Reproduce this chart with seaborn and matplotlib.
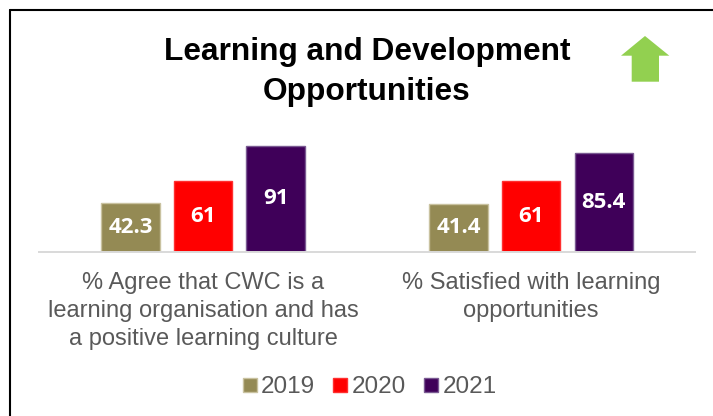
import matplotlib
matplotlib.use("Agg")
import matplotlib.pyplot as plt
from matplotlib.patches import Polygon
from matplotlib.lines import Line2D
import seaborn as sns
import pandas as pd

# Survey measures (x categories) and yearly results
categories = [
    "% Agree that CWC is a\nlearning organisation and has\na positive learning culture",
    "% Satisfied with learning\nopportunities",
]
years = ["2019", "2020", "2021"]
values_2019 = [42.3, 41.4]
values_2020 = [61, 61]
values_2021 = [91, 85.4]

title = "Learning and Development\nOpportunities"

colors = {"2019": "#948A54", "2020": "#FF0000", "2021": "#3F0059"}
edge_colors = {"2019": "#C9C2A0", "2020": "#FF3030", "2021": "#7A5A92"}

rows = []
for year, vals in zip(years, [values_2019, values_2020, values_2021]):
    for cat, v in zip(categories, vals):
        rows.append({"category": cat, "year": year, "value": v})
df = pd.DataFrame(rows)

sns.set_style("white")
plt.rcParams["font.family"] = ["Liberation Sans", "DejaVu Sans"]

W, H = 713, 416
fig = plt.figure(figsize=(W / 100, H / 100), dpi=100)
fig.patch.set_facecolor("white")
ax = fig.add_axes([38.9 / W, 1 - 251.5 / H, 656.4 / W, 115.7 / H])

sns.barplot(
    data=df, x="category", y="value", hue="year",
    order=categories, hue_order=years, palette=colors,
    width=0.663, gap=0.195, saturation=1, legend=False, ax=ax,
)

for container, year in zip(ax.containers, years):
    for bar in container:
        bar.set_edgecolor(edge_colors[year])
        bar.set_linewidth(1.0)
    ax.bar_label(
        container, fmt="{:g}", label_type="center", color="white",
        fontsize=16, fontweight="bold", family=["Open Sans", "DejaVu Sans"],
    )

ax.set_xlim(-0.5, 1.5)
ax.set_ylim(0, 100)
ax.set_yticks([])
ax.set_xlabel("")
ax.set_ylabel("")
ax.set_xticks(range(len(categories)))
ax.set_xticklabels(categories, linespacing=1.37)
ax.tick_params(axis="x", length=0, pad=14.5, labelsize=17, labelcolor="#595959")
for side in ["left", "top", "right"]:
    ax.spines[side].set_visible(False)
ax.spines["bottom"].set_color("#D9D9D9")
ax.spines["bottom"].set_linewidth(1.4)
ax.set_facecolor("white")

# Title
fig.text(367 / W, 1 - 37 / H, title, ha="center", va="top",
         fontsize=22.8, fontweight="bold", linespacing=1.43, color="black")

# Green "improving" arrow
arrow_px = [(645, 36), (669.3, 55.7), (659, 55.7), (659, 81.7),
            (631.7, 81.7), (631.7, 55.7), (621, 55.7)]
arrow_pts = [(x / W, 1 - y / H) for x, y in arrow_px]
fig.add_artist(Polygon(arrow_pts, closed=True, transform=fig.transFigure,
                       facecolor="#92D050", edgecolor="none"))

# Panel frame (left and top edges)
fig.add_artist(Line2D([9.5 / W, 9.5 / W], [0, 1 - 10 / H], transform=fig.transFigure,
                      color="black", linewidth=1.5))
fig.add_artist(Line2D([9.5 / W, 1], [1 - 10 / H, 1 - 10 / H], transform=fig.transFigure,
                      color="black", linewidth=1.5))

# Legend
handles = [
    Line2D([], [], marker="s", linestyle="none", markersize=9.4,
           markerfacecolor=colors[y], markeredgecolor=edge_colors[y], markeredgewidth=1)
    for y in years
]
fig.legend(handles, years, loc="center", bbox_to_anchor=(369.7 / W, 1 - 387 / H),
           ncol=3, frameon=False, fontsize=17.5, handlelength=0.55, handletextpad=0.2,
           columnspacing=0.75, labelcolor="#595959", borderpad=0)

fig.savefig("out.png", dpi=100)
